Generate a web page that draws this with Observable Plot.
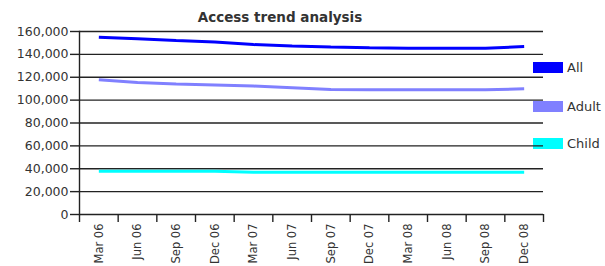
<!DOCTYPE html>
<html>
<head>
<meta charset="utf-8">
<script src="https://cdn.jsdelivr.net/npm/d3@7"></script>
<script src="https://cdn.jsdelivr.net/npm/@observablehq/plot@0.6"></script>
<style>
  html, body { margin: 0; padding: 0; background: #fff; }
  #wrap { position: relative; width: 605px; height: 266px; font-family: "DejaVu Sans", sans-serif; color: #222; }
  #title { position: absolute; left: 0; width: 560px; top: 9px; text-align: center; font-size: 13.5px; font-weight: bold; line-height: 16px; color: #333; }
  #legend { position: absolute; left: 0; top: 0; width: 605px; height: 266px; z-index: 0; }
  .item { position: absolute; left: 533px; height: 11px; display: flex; align-items: center; }
  .sw { width: 30px; height: 11px; }
  .lab { margin-left: 4px; font-size: 13px; line-height: 11px; color: #333; }
  #chart { position: absolute; left: 0; top: 0; z-index: 1; }
</style>
</head>
<body>
<div id="wrap">
  <div id="legend"></div>
  <div id="chart"></div>
  <div id="title">Access trend analysis</div>
</div>
<script>
// ---- data ----
const title = "Access trend analysis";
const quarters = ["Mar 06","Jun 06","Sep 06","Dec 06","Mar 07","Jun 07","Sep 07","Dec 07","Mar 08","Jun 08","Sep 08","Dec 08"];
const seriesNames = ["All", "Adult", "Child"];
const seriesColors = ["#0000ff", "#8080ff", "#00ffff"];
const allValues   = [155000,153600,152100,150900,148600,147400,146400,145800,145300,145300,145300,146800];
const adultValues = [117900,115400,114100,113200,112300,110900,109300,109000,109000,109000,109000,109900];
const childValues = [37800,37800,37800,37800,36900,36900,36900,36900,36900,36900,36900,36900];
const yTicks = [0,20000,40000,60000,80000,100000,120000,140000,160000];

// ---- build table ----
const valuesBySeries = [allValues, adultValues, childValues];
const rows = [];
valuesBySeries.forEach((vals, s) => {
  vals.forEach((v, i) => rows.push({series: seriesNames[s], i, value: v}));
});
const drawOrder = ["Child", "Adult", "All"];
rows.sort((a, b) => drawOrder.indexOf(a.series) - drawOrder.indexOf(b.series));

const boundaries = d3.range(quarters.length + 1).map(k => k - 0.5);

const chart = Plot.plot({
  width: 605,
  height: 266,
  marginLeft: 79,
  marginRight: 62,
  marginTop: 31,
  marginBottom: 52,
  style: {fontFamily: "DejaVu Sans, sans-serif", fontSize: "12px", color: "#333", background: "transparent"},
  x: {type: "linear", domain: [-0.5, quarters.length - 0.5]},
  y: {domain: [0, 160000]},
  color: {domain: seriesNames, range: seriesColors},
  marks: [
    Plot.ruleY(yTicks, {stroke: "#222", strokeWidth: 1.4}),
    Plot.frame({anchor: "left", stroke: "#222", strokeWidth: 1.4}),
    Plot.axisY({ticks: yTicks, tickFormat: d3.format(","), tickSize: 9, tickPadding: 2, label: null, fontSize: 12.5, stroke: "#222", strokeWidth: 1.4}),
    Plot.axisX({ticks: boundaries, tickSize: 8, tickFormat: () => "", label: null, stroke: "#222", strokeWidth: 1.4}),
    Plot.axisX({ticks: d3.range(quarters.length), tickSize: 0, tickPadding: 9, tickRotate: -90, tickFormat: i => quarters[i], label: null, fontSize: 11.5}),
    Plot.line(rows, {x: "i", y: "value", z: "series", stroke: "series", strokeWidth: 3, strokeLinejoin: "miter", strokeLinecap: "butt"})
  ]
});
document.getElementById("chart").appendChild(chart);

// ---- legend ----
const legend = document.getElementById("legend");
const legendTops = [62, 101, 138];
seriesNames.forEach((name, k) => {
  const item = document.createElement("div");
  item.className = "item";
  item.style.top = legendTops[k] + "px";
  const sw = document.createElement("div");
  sw.className = "sw";
  sw.style.background = seriesColors[k];
  const lab = document.createElement("span");
  lab.className = "lab";
  lab.textContent = name;
  item.appendChild(sw);
  item.appendChild(lab);
  legend.appendChild(item);
});
document.getElementById("title").textContent = title;
</script>
</body>
</html>
